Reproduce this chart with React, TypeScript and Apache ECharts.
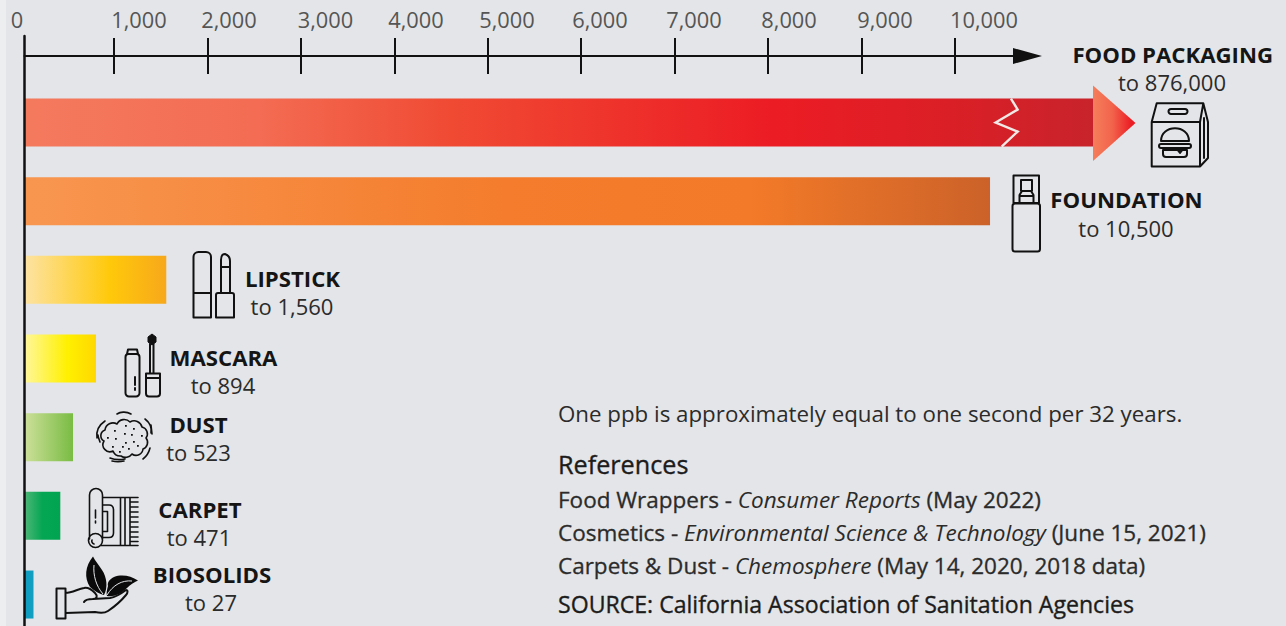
import React, { useEffect, useRef } from "react";
import * as echarts from "echarts";

// ---------- data ----------
const categories = ["FOOD PACKAGING", "FOUNDATION", "LIPSTICK", "MASCARA", "DUST", "CARPET", "BIOSOLIDS"];
const rangeLabels = ["to 876,000", "to 10,500", "to 1,560", "to 894", "to 523", "to 471", "to 27"];
// Length of each bar as drawn against the axis (the graphic is not strictly to scale)
const drawnLengths = [11477, 10375, 1560, 808, 562, 426, 139];
const axisBreakAt = 10588;
const tickValues = [1000, 2000, 3000, 4000, 5000, 6000, 7000, 8000, 9000, 10000];
const tickLabels = ["0", "1,000", "2,000", "3,000", "4,000", "5,000", "6,000", "7,000", "8,000", "9,000", "10,000"];
// Where the labels sit on the scale: they are offset from their ticks in the picture
const labelAnchors = [-37, 1268, 2231, 3264, 4232, 5206, 6201, 7207, 8224, 9250, 10310];
const barStops: [number, string][][] = [
  [[0, "#F47A5E"], [0.22, "#F36C53"], [0.4, "#F04A33"], [0.7, "#EC1C24"], [0.87, "#DA1F26"], [1, "#C8232C"]],
  [[0, "#F89650"], [0.5, "#F47C2C"], [0.75, "#F37A28"], [1, "#CC6229"]],
  [[0, "#FDE3A3"], [0.6, "#FFC90A"], [1, "#F7A81B"]],
  [[0, "#FFF79B"], [0.6, "#FFF000"], [1, "#FFD800"]],
  [[0, "#CDE09A"], [1, "#79BC43"]],
  [[0, "#4DB777"], [0.5, "#05A653"], [1, "#00A551"]],
  [[0, "#0D9DC2"], [1, "#129FC0"]],
];

// ---------- layout ----------
const FONT = '"Open Sans", "Noto Sans", sans-serif';
const BG = "#E3E5E8";
const INK = "#111111";
const TEXT = "#2B2B2B";
const PX_PER_UNIT = 0.09345;
const ZERO_X = 20.5;
const toValue = (px: number) => (px - ZERO_X) / PX_PER_UNIT;

const labelCoords: [number, number, number, number][] = [
  [1172.7, 54, 1172, 82],
  [1126.5, 199.5, 1126, 227.5],
  [292.5, 278, 292, 306],
  [223.5, 357, 223, 385],
  [198.5, 424, 198.5, 452],
  [200, 509, 199, 537],
  [212, 574, 211, 602],
];

// ---------- icons ----------
const icons: Record<string, string> = {
  bagIcon:
    "M1156.7 103.3 H1203.3 L1208 122 V158 L1200 166.5 H1151.7 V122 Z M1151.7 122 H1200 M1203.3 103.3 L1200 122 V166.5 M1204 118 L1204 158 " +
    "M1171 109 H1185 A2.5 2.5 0 0 1 1185 114 H1171 A2.5 2.5 0 0 1 1171 109 Z " +
    "M1161 141 C1161 124 1189 124 1189 141 Z M1161 144 H1189 A2 2 0 0 1 1189 148 H1161 A2 2 0 0 1 1161 144 Z " +
    "M1163 150 H1187 V154 A3 3 0 0 1 1184 157 H1166 A3 3 0 0 1 1163 154 Z M1176 148 L1180 153 L1184 148",
  bottleIcon:
    "M1013.5 175.5 H1039 V203 H1013.5 Z M1015 203.5 H1037.5 A2.5 2.5 0 0 1 1040 206 V249 A2.5 2.5 0 0 1 1037.5 251.5 H1015 A2.5 2.5 0 0 1 1012.5 249 V206 A2.5 2.5 0 0 1 1015 203.5 Z " +
    "M1021 180 H1032 V191 H1021 Z M1019.5 203 V195 L1022 191 H1031 L1033.5 195 V203 M1019.5 196 H1033.5",
  lipstickIcon:
    "M193.5 293 V257 A5 5 0 0 1 198.5 252 H206 A5 5 0 0 1 211 257 V317.5 H193.5 Z M193.5 293 H211 " +
    "M216 295 A2 2 0 0 1 218 293 H232 A2 2 0 0 1 234 295 V317.5 H216 Z M221 293 V260 C221 256 223 254 225 254 C228 255 230 257 230 261 V293 M221 267 H230",
  mascaraIcon:
    "M125.5 357 A3 3 0 0 1 128.5 354 H136.5 A3 3 0 0 1 139.5 357 V393 A3.5 3.5 0 0 1 136 396.5 H129 A3.5 3.5 0 0 1 125.5 393 Z " +
    "M128 349.5 H137 L138 354 H127 Z M135 377 V385 M135 388 V390 " +
    "M150 344 V373 M153.5 344 V373 M146 378 V393.5 A3 3 0 0 0 149 396.5 H157 A3 3 0 0 0 160 393.5 V378 M146 373.5 H160 V378 H146 Z",
  brushIcon: "M152 334 L156 337 V342 L152 345 L148 342 V337 Z",
  dustIcon:
    "M113 451 A7 7 0 0 1 104 441 A6 6 0 0 1 105 430 A8 8 0 0 1 117 424 A8 8 0 0 1 130 422 A8 8 0 0 1 142 427 A7 7 0 0 1 146 438 A7 7 0 0 1 143 449 A7 7 0 0 1 132 454 A8 8 0 0 1 121 456 A8 8 0 0 1 113 451 Z " +
    "M97 438 C96 431 99 425 105 421 M100 442 C99 439 98 437 98 435 M117 414 C120 412 126 411 131 414 M145 419 C149 422 152 427 151 433 M152 434 L151 425 M143 459 C147 456 149 452 150 448 M110 458 C115 460 120 460 125 459 M112 461 C116 462 120 462 124 461",
  dustDots:
    "M114 430h1.8v1.8h-1.8z M125 425h1.8v1.8h-1.8z M133 428h1.8v1.8h-1.8z M107 437h1.8v1.8h-1.8z M115 438h1.8v1.8h-1.8z M131 434h1.8v1.8h-1.8z M141 435h1.8v1.8h-1.8z M124 433h1.8v1.8h-1.8z M112 446h1.8v1.8h-1.8z M125 442h1.8v1.8h-1.8z M133 441h1.8v1.8h-1.8z M122 446h1.8v1.8h-1.8z M137 445h1.8v1.8h-1.8z M119 451h1.8v1.8h-1.8z M128 448h1.8v1.8h-1.8z",
  carpetIcon:
    "M89.5 539 V495 A6.5 6.5 0 0 1 102.5 495 V539 M102.5 497.5 H138 M100 545.5 H138 M120.5 497.5 V545.5 M125 497.5 V545.5 M130 497.5 V545.5 " +
    "M130 502 H138 M130 507 H138 M130 512 H138 M130 517 H138 M130 522 H138 M130 527 H138 M130 532 H138 M130 537 H138 M130 541.5 H138 " +
    "M102.5 505 H109 Q113.5 505 113.5 510 V533 Q113.5 537.5 109 537.5 H102.5 M102.5 511.5 H107.5 V531.5 H102.5 M95.5 510 V518 M95.5 521 V523 " +
    "M102.5 540.5 A7 7 0 1 1 88.5 540.5 A7 7 0 1 1 102.5 540.5 Z M94 544 A3 3 0 0 1 92 540",
  handIcon:
    "M56.5 588.5 H65.5 V618.5 H56.5 Z M65.5 593 C72 593 78 589 84 588 C88 587 92 590 95 593 C98 596 97 599 93 599 C89 599 85 600 84 602 " +
    "M93 599 L110 598 C116 597 122 593 126 590 C128 590 128 593 126 595 C121 601 114 607 108 611 C105 613 100 613 95 612 L65.5 613",
  leafIcon:
    "M93 556.5 C85 566 84 578 90 587 C94 591 100 594 104 595 C108 588 107 577 102 570 C99 565 95 561 93 556.5 Z " +
    "M138 580.5 C131 576 122 574 114 577 C110 579 107 582 108 586 C107 590 106 593 107 596 C114 597 121 594 127 588 C130 585 134 582 138 580.5 Z",
  leafVein: "M94 565 C93 575 96 586 103 594 M132 581 C122 580 113 585 107 595",
};
Object.entries(icons).forEach(([name, d]) => {
  echarts.graphic.registerShape(name, echarts.graphic.extendPath(d, {}));
});

const iconEl = (type: string, style: Record<string, unknown>) => ({ type, x: 0, y: 0, silent: true, style });
const stroke = (type: string, lineWidth = 2) =>
  iconEl(type, { fill: "none", stroke: INK, lineWidth, lineJoin: "round", lineCap: "round" });

const txt = (
  x: number, y: number, text: string, fontSize: number, fontWeight: number,
  align = "center", fill = TEXT, medium = false,
) => ({
  type: "text",
  x,
  y,
  silent: true,
  style: {
    text, fontFamily: FONT, fontSize, fontWeight, fill, textAlign: align, textVerticalAlign: "middle",
    ...(medium ? { stroke: fill, lineWidth: 0.35 } : {}),
  },
});

const refRich = (fontSize: number) => ({
  r: { fontFamily: FONT, fontSize, fill: TEXT, fontWeight: 400, stroke: TEXT, lineWidth: 0.3 },
  i: { fontFamily: FONT, fontSize, fill: TEXT, fontStyle: "italic" },
});
const refLine = (y: number, text: string) => ({
  type: "text",
  x: 558,
  y,
  silent: true,
  style: { text, rich: refRich(22.5), textAlign: "left", textVerticalAlign: "middle", fontFamily: FONT, fontSize: 22.5 },
});

export default function App() {
  const ref = useRef<HTMLDivElement>(null);
  useEffect(() => {
    if (!ref.current) return;
    const chart = echarts.init(ref.current, undefined, { renderer: "svg" });
    const left = 24.5;
    const startValue = toValue(left);
    const axisEnd = 1027.5;
    const barsEnd = 1200;
    const option = {
      animation: false,
      backgroundColor: BG,
      grid: [
        { left: 0, top: 56, width: 1042, height: 20 },
        { left, top: 36, width: axisEnd - left, height: 600 },
        { left, top: 83.2, width: barsEnd - left, height: 550.67 },
      ],
      xAxis: [
        {
          gridIndex: 0,
          type: "value",
          position: "top",
          min: toValue(0),
          max: toValue(1042),
          axisLine: { show: false },
          axisTick: { show: false },
          splitLine: { show: false },
          axisLabel: {
            customValues: labelAnchors,
            formatter: (v: number) => tickLabels[labelAnchors.indexOf(v)] ?? "",
            fontFamily: FONT,
            fontSize: 21.8,
            color: "#555555",
            verticalAlign: "middle",
            margin: 37,
          },
        },
        {
          gridIndex: 1,
          type: "value",
          position: "top",
          offset: -20,
          min: startValue,
          max: toValue(axisEnd),
          axisLine: {
            show: true,
            onZero: false,
            symbol: ["none", "triangle"],
            symbolSize: [16, 29],
            lineStyle: { color: INK, width: 2 },
          },
          axisTick: { show: true, customValues: tickValues, length: 18, lineStyle: { color: INK, width: 2 } },
          axisLabel: { show: false },
          splitLine: { show: false },
        },
        {
          gridIndex: 1,
          type: "value",
          position: "top",
          offset: -20,
          min: startValue,
          max: toValue(axisEnd),
          axisLine: { show: false, onZero: false },
          axisTick: { show: true, inside: true, customValues: tickValues, length: 18, lineStyle: { color: INK, width: 2 } },
          axisLabel: { show: false },
          splitLine: { show: false },
        },
        {
          gridIndex: 2,
          type: "value",
          min: startValue,
          max: toValue(barsEnd),
          show: false,
        },
      ],
      yAxis: [
        { gridIndex: 0, type: "value", show: false },
        {
          gridIndex: 1,
          type: "value",
          position: "left",
          z: 10,
          axisLine: { show: true, onZero: false, lineStyle: { color: INK, width: 2.5 } },
          axisTick: { show: false },
          axisLabel: { show: false },
          splitLine: { show: false },
        },
        { gridIndex: 2, type: "category", inverse: true, data: categories, show: false },
      ],
      series: [
        {
          type: "bar",
          xAxisIndex: 3,
          yAxisIndex: 2,
          barWidth: 48,
          z: 2,
          data: drawnLengths.map((value, i) => ({
            value,
            itemStyle: {
              color: new echarts.graphic.LinearGradient(
                0, 0, 1, 0,
                barStops[i].map(([offset, color]) => ({ offset, color })),
              ),
            },
          })),
        },
        {
          type: "custom",
          xAxisIndex: 3,
          yAxisIndex: 2,
          z: 3,
          clip: false,
          data: [[drawnLengths[0], axisBreakAt, 0]],
          encode: { x: 0, y: 2 },
          renderItem: (_: unknown, api: any) => {
            const [endX, cy] = api.coord([api.value(0), api.value(2)]);
            const [breakX] = api.coord([api.value(1), api.value(2)]);
            return {
              type: "group",
              children: [
                {
                  type: "polygon",
                  shape: { points: [[endX, cy - 37], [endX + 42.5, cy + 0.5], [endX, cy + 38.5]] },
                  style: {
                    fill: new echarts.graphic.LinearGradient(0, 0, 1, 0, [
                      { offset: 0, color: "#F57E5C" },
                      { offset: 0.45, color: "#F2644C" },
                      { offset: 0.9, color: "#EC1C24" },
                      { offset: 1, color: "#EC1C24" },
                    ]),
                  },
                },
                {
                  type: "polyline",
                  shape: {
                    points: [
                      [breakX + 1, cy - 24],
                      [breakX + 7.7, cy - 13],
                      [breakX - 14.3, cy],
                      [breakX + 7.7, cy + 9],
                      [breakX - 8.3, cy + 24],
                    ],
                  },
                  style: { fill: "none", stroke: "#F0E9E6", lineWidth: 2.4 },
                },
              ],
            };
          },
        },
      ],
      graphic: [
        { type: "rect", z: -1, shape: { x: 0, y: 0, width: 6, height: 626 }, style: { fill: "#EDEEF0" }, silent: true },
        ...categories.flatMap((name, i) => {
          const [x1, y1, x2, y2] = labelCoords[i];
          return [txt(x1, y1, name, 22.2, 700, "center", "#151515"), txt(x2, y2, rangeLabels[i], 22, 400)];
        }),
        stroke("bagIcon"),
        stroke("bottleIcon"),
        stroke("lipstickIcon"),
        stroke("mascaraIcon"),
        iconEl("brushIcon", { fill: INK, stroke: INK, lineWidth: 1 }),
        stroke("dustIcon", 1.6),
        iconEl("dustDots", { fill: INK }),
        stroke("carpetIcon", 1.6),
        stroke("handIcon"),
        iconEl("leafIcon", { fill: "#0A0A0A" }),
        iconEl("leafVein", { fill: "none", stroke: BG, lineWidth: 1 }),
        txt(558, 413.5, "One ppb is approximately equal to one second per 32 years.", 22.3, 400, "left"),
        txt(558, 464, "References", 25.2, 400, "left", "#1C1C1C", true),
        refLine(499.5, "{r|Food Wrappers - }{i|Consumer Reports}{r| (May 2022)}"),
        refLine(532.5, "{r|Cosmetics - }{i|Environmental Science & Technology}{r| (June 15, 2021)}"),
        refLine(565.5, "{r|Carpets & Dust - }{i|Chemosphere}{r| (May 14, 2020, 2018 data)}"),
        txt(558, 603.5, "SOURCE: California Association of Sanitation Agencies", 23.1, 400, "left", "#1C1C1C", true),
      ],
    };
    chart.setOption(option as any);
    return () => chart.dispose();
  }, []);
  return (
    <div style={{ position: "absolute", left: 0, top: 0, width: 1286, height: 626, overflow: "hidden" }}>
      <div ref={ref} style={{ width: 1286, height: 660 }} />
    </div>
  );
}
